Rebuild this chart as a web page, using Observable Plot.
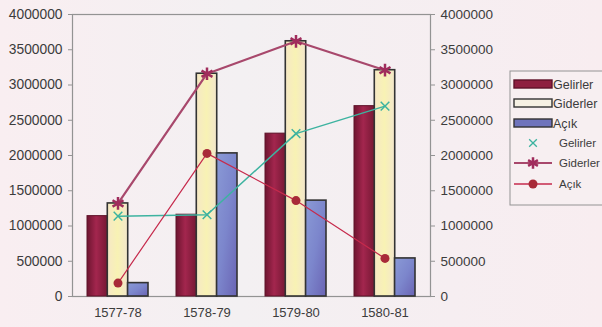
<!DOCTYPE html>
<html>
<head>
<meta charset="utf-8">
<script src="https://cdn.jsdelivr.net/npm/d3@7"></script>
<script src="https://cdn.jsdelivr.net/npm/@observablehq/plot@0.6"></script>
<style>
  html, body { margin: 0; padding: 0; background: #f7eef0; }
  #wrap { position: relative; width: 602px; height: 327px; overflow: hidden;
          background: linear-gradient(90deg, #f9eef1 0%, #f3f0f2 40%, #f6eef1 75%, #f8edf0 100%); }
  #wrap svg { position: absolute; left: 0; top: 0; font-family: "Liberation Sans", Arial, sans-serif; }
</style>
</head>
<body>
<div id="wrap"></div>
<script>
// ---- data ----
const years = ["1577-78", "1578-79", "1579-80", "1580-81"];
const gelirler = [1140000, 1160000, 2310000, 2700000];
const giderler = [1320000, 3160000, 3620000, 3210000];
const acik = [190000, 2030000, 1360000, 540000];
const yTicks = [0, 500000, 1000000, 1500000, 2000000, 2500000, 3000000, 3500000, 4000000];
const legendLabels = ["Gelirler", "Giderler", "Açık", "Gelirler", "Giderler", "Açık"];

// ---- layout ----
const W = 602, H = 327, mL = 72, mR = 172, mT = 14, mB = 31;
const padInner = 0.32, padOuter = 0.16;
const step = (W - mL - mR) / (years.length - padInner + 2 * padOuter);
const barW = step * (1 - padInner) / 3;

const rows = years.map((y, i) => ({year: y, gel: gelirler[i], gid: giderler[i], acik: acik[i]}));

const C = {
  gelBar: "url(#gGel)", gidBar: "url(#gGid)", acBar: "url(#gAc)",
  gelLine: "#3db3a0", gidLine: "#a8486c", acLine: "#c62a4c", acDot: "#a82a38",
  axis: "#939393", text: "#3c3c3c"
};

const chart = Plot.plot({
  width: W, height: H,
  marginLeft: mL, marginRight: mR, marginTop: mT, marginBottom: mB,
  style: {background: "transparent", fontFamily: "Liberation Sans, Arial, sans-serif", color: C.text},
  x: {type: "band", domain: years, paddingInner: padInner, paddingOuter: padOuter, label: null},
  y: {domain: [0, 4000000], label: null},
  marks: [
    Plot.frame({stroke: C.axis, strokeWidth: 1.2}),
    Plot.axisY({anchor: "left", ticks: yTicks, tickFormat: d => String(d), tickSize: 4, tickPadding: 6, fontSize: 13.8, stroke: C.axis, label: null}),
    Plot.axisY({anchor: "right", ticks: yTicks, tickFormat: d => String(d), tickSize: 4, tickPadding: 6, fontSize: 13.5, stroke: C.axis, label: null}),
    Plot.axisX({tickSize: 0, tickPadding: 11, fontSize: 13, label: null}),
    Plot.barY(rows, {x: "year", y: "gel", fill: C.gelBar, stroke: "#5e1228", strokeWidth: 1, insetRight: 2 * barW}),
    Plot.barY(rows, {x: "year", y: "gid", fill: C.gidBar, stroke: "#333", strokeWidth: 1.6, insetLeft: barW, insetRight: barW}),
    Plot.barY(rows, {x: "year", y: "acik", fill: C.acBar, stroke: "#333", strokeWidth: 1.6, insetLeft: 2 * barW}),
    Plot.line(rows, {x: "year", y: "gel", stroke: C.gelLine, strokeWidth: 1.5}),
    Plot.dot(rows, {x: "year", y: "gel", symbol: "times", stroke: C.gelLine, r: 4, strokeWidth: 1.5}),
    Plot.line(rows, {x: "year", y: "gid", stroke: C.gidLine, strokeWidth: 2.2}),
    Plot.dot(rows, {x: "year", y: "gid", symbol: "asterisk", stroke: "#a02c5c", r: 6, strokeWidth: 2.5}),
    Plot.line(rows, {x: "year", y: "acik", stroke: C.acLine, strokeWidth: 1.2}),
    Plot.dot(rows, {x: "year", y: "acik", fill: C.acDot, r: 4.5})
  ]
});

// gradients for the bars
d3.select(chart).insert("defs", ":first-child").html(`
  <linearGradient id="gGel" x1="0" x2="1" y1="0" y2="0">
    <stop offset="0" stop-color="#6e1530"/><stop offset="0.45" stop-color="#a3264e"/><stop offset="1" stop-color="#761834"/>
  </linearGradient>
  <linearGradient id="gGid" x1="0" x2="1" y1="0" y2="0">
    <stop offset="0" stop-color="#f6e8c6"/><stop offset="0.5" stop-color="#f8f2b4"/><stop offset="1" stop-color="#f3e6cc"/>
  </linearGradient>
  <linearGradient id="gAc" x1="0" x2="1" y1="0" y2="1">
    <stop offset="0" stop-color="#8a9ad6"/><stop offset="0.5" stop-color="#7c86cc"/><stop offset="1" stop-color="#6a64b4"/>
  </linearGradient>`);

const wrap = document.getElementById("wrap");
wrap.appendChild(chart);

// legend (drawn as SVG overlay on the right)
const leg = d3.select(wrap).append("svg").attr("width", W).attr("height", H).style("pointer-events", "none");
const lx = 510, ly = 71, lh = 134;
leg.append("rect").attr("x", lx).attr("y", ly).attr("width", 120).attr("height", lh)
  .attr("fill", "#f6f0f2").attr("fill-opacity", 0.6).attr("stroke", "#939393").attr("stroke-width", 1);
const rowY = [84, 103, 123, 143, 163, 184];
const swStroke = ["#5e1228", "#333", "#333"];
legendLabels.forEach((lab, i) => {
  const y = rowY[i];
  if (i < 3) {
    leg.append("rect").attr("x", 514).attr("y", y - 4).attr("width", 38).attr("height", 8)
      .attr("fill", ["#8e1f40", "#f6f1e4", "#6f74bc"][i]).attr("stroke", swStroke[i]).attr("stroke-width", 1.4);
    leg.append("text").attr("x", 553).attr("y", y).attr("dy", "0.36em").attr("font-size", 12.5).attr("fill", C.text).text(lab);
  } else {
    const col = [C.gelLine, C.gidLine, C.acLine][i - 3];
    if (i !== 3) leg.append("line").attr("x1", 514).attr("x2", 552).attr("y1", y).attr("y2", y).attr("stroke", col).attr("stroke-width", i === 4 ? 2 : 1.5);
    if (i === 3) {
      leg.append("path").attr("d", d3.symbol(d3.symbolTimes, 40)()).attr("transform", `translate(533,${y})`).attr("stroke", col).attr("stroke-width", 1.3).attr("fill", "none");
    } else if (i === 4) {
      leg.append("path").attr("d", d3.symbol(d3.symbolAsterisk, 90)()).attr("transform", `translate(533,${y})`).attr("stroke", "#a02c5c").attr("stroke-width", 2.5).attr("fill", "none");
    } else {
      leg.append("circle").attr("cx", 533).attr("cy", y).attr("r", 4.5).attr("fill", C.acDot);
    }
    leg.append("text").attr("x", 559).attr("y", y).attr("dy", "0.36em").attr("font-size", 11.5).attr("fill", C.text).text(lab);
  }
});
</script>
</body>
</html>
